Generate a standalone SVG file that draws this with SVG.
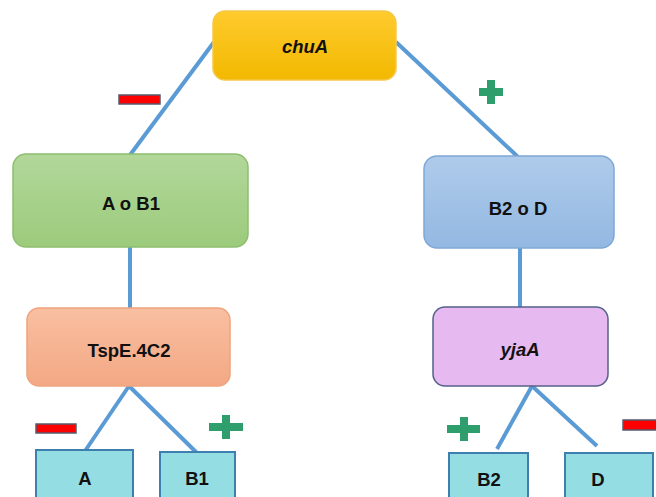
<svg xmlns="http://www.w3.org/2000/svg" width="656" height="497" viewBox="0 0 656 497">
<defs>
<linearGradient id="gGold" x1="0" y1="0" x2="0" y2="1"><stop offset="0" stop-color="#FFCB2E"/><stop offset="1" stop-color="#F2B800"/></linearGradient>
<linearGradient id="gGreen" x1="0" y1="0" x2="0" y2="1"><stop offset="0" stop-color="#B2D79A"/><stop offset="1" stop-color="#9CCB7C"/></linearGradient>
<linearGradient id="gBlue" x1="0" y1="0" x2="0" y2="1"><stop offset="0" stop-color="#AFCBEB"/><stop offset="1" stop-color="#93B8E2"/></linearGradient>
<linearGradient id="gSalmon" x1="0" y1="0" x2="0" y2="1"><stop offset="0" stop-color="#F9BFA1"/><stop offset="1" stop-color="#F3A884"/></linearGradient>
</defs>
<style>
.t{font-family:"Liberation Sans","Open Sans",sans-serif;font-weight:bold;font-size:18.5px;fill:#111;text-anchor:middle;dominant-baseline:central}
.i{font-style:italic}
.c{stroke:#5B9BD5;stroke-width:4;fill:none;stroke-linecap:butt}
.leaf{fill:#94DDE3;stroke:#3E7FAF;stroke-width:2}
.minus{fill:#FF0000;stroke:#555A6E;stroke-width:1.5}
.plus{fill:#2E9E6C}
</style>
<rect width="656" height="497" fill="#ffffff"/>
<g id="connectors">
<line class="c" x1="214" y1="42" x2="130" y2="155"/>
<line class="c" x1="396" y1="42" x2="518" y2="157"/>
<line class="c" x1="130" y1="247" x2="130" y2="309"/>
<line class="c" x1="520" y1="248" x2="520" y2="308"/>
<line class="c" x1="129" y1="386" x2="85" y2="451"/>
<line class="c" x1="129" y1="386" x2="197" y2="453"/>
<line class="c" x1="532" y1="386" x2="497" y2="449"/>
<line class="c" x1="532" y1="386" x2="597" y2="446"/>
</g>
<g id="chuA"><rect x="213" y="11" width="183" height="69" rx="12" fill="url(#gGold)" stroke="#F5C84A" stroke-width="1.5"/><text class="t i" x="305" y="46">chuA</text></g>
<g id="AoB1"><rect x="13" y="154" width="235" height="93" rx="13" fill="url(#gGreen)" stroke="#8DBE6D" stroke-width="1.5"/><text class="t" x="131" y="203">A o B1</text></g>
<g id="B2oD"><rect x="424" y="156" width="190" height="92" rx="13" fill="url(#gBlue)" stroke="#7FA8D6" stroke-width="1.5"/><text class="t" x="518" y="208">B2 o D</text></g>
<g id="TspE"><rect x="27" y="308" width="203" height="78" rx="12" fill="url(#gSalmon)" stroke="#EFA37E" stroke-width="1.5"/><text class="t" x="129" y="350">TspE.4C2</text></g>
<g id="yjaA"><rect x="433" y="307" width="175" height="79" rx="12" fill="#E6B9F1" stroke="#55608A" stroke-width="1.5"/><text class="t i" x="520" y="349">yjaA</text></g>
<g id="A"><rect class="leaf" x="36" y="450" width="97" height="55"/><text class="t" x="85" y="478">A</text></g>
<g id="B1"><rect class="leaf" x="160" y="452" width="75" height="55"/><text class="t" x="197" y="478">B1</text></g>
<g id="B2"><rect class="leaf" x="449" y="453" width="79" height="55"/><text class="t" x="489" y="479">B2</text></g>
<g id="D"><rect class="leaf" x="565" y="453" width="88" height="55"/><text class="t" x="598" y="479">D</text></g>
<g id="signs">
<rect class="minus" x="119" y="95" width="41" height="9"/>
<path class="plus" d="M487 80h8v8h8v8h-8v8h-8v-8h-8v-8h8z"/>
<rect class="minus" x="36" y="424" width="40" height="9"/>
<path class="plus" d="M222 415h8v8h13v8h-13v8h-8v-8h-13v-8h13z"/>
<path class="plus" d="M460 417h8v8h12v8h-12v8h-8v-8h-13v-8h13z"/>
<rect class="minus" x="623" y="420" width="36" height="10"/>
</g>
</svg>
